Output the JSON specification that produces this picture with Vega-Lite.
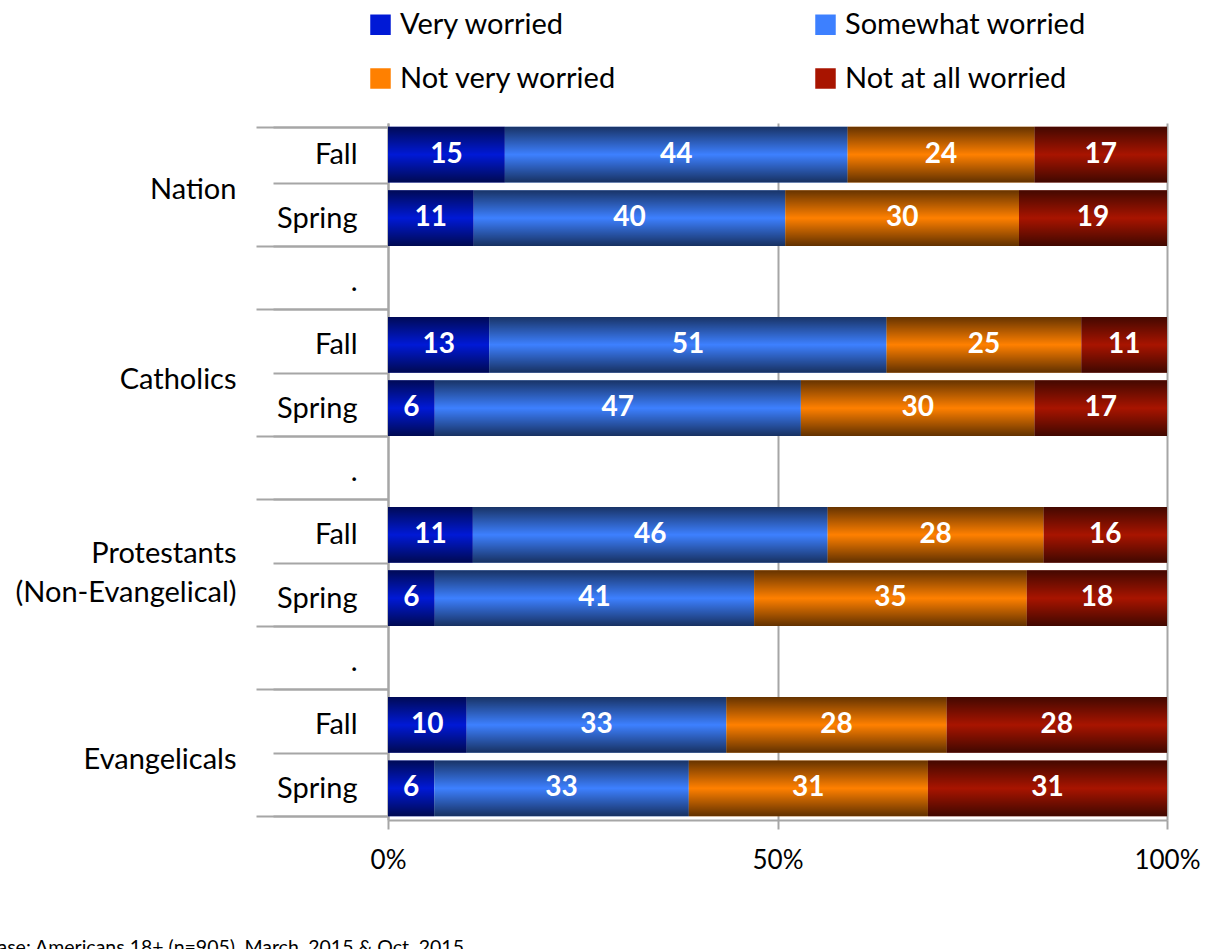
{
  "$schema": "https://vega.github.io/schema/vega-lite/v6.json",
  "width": 779,
  "height": 697,
  "autosize": {"type": "none"},
  "padding": {"left": 388, "top": 123, "right": 44, "bottom": 129},
  "background": "white",
  "config": {
    "font": "Lato",
    "view": {"stroke": null}
  },
  "title": {
    "text": "Base: Americans 18+ (n=905), March, 2015 & Oct. 2015",
    "orient": "bottom",
    "anchor": "start",
    "frame": "group",
    "dx": -403,
    "offset": 66,
    "font": "Lato",
    "fontSize": 19.5,
    "fontWeight": "normal",
    "color": "black"
  },
  "data": {
    "values": [
      {"row": "Nation|Fall", "category": "Very worried", "k": 1, "value": 15},
      {"row": "Nation|Fall", "category": "Somewhat worried", "k": 2, "value": 44},
      {"row": "Nation|Fall", "category": "Not very worried", "k": 3, "value": 24},
      {"row": "Nation|Fall", "category": "Not at all worried", "k": 4, "value": 17},
      {"row": "Nation|Spring", "category": "Very worried", "k": 1, "value": 11},
      {"row": "Nation|Spring", "category": "Somewhat worried", "k": 2, "value": 40},
      {"row": "Nation|Spring", "category": "Not very worried", "k": 3, "value": 30},
      {"row": "Nation|Spring", "category": "Not at all worried", "k": 4, "value": 19},
      {"row": "Catholics|Fall", "category": "Very worried", "k": 1, "value": 13},
      {"row": "Catholics|Fall", "category": "Somewhat worried", "k": 2, "value": 51},
      {"row": "Catholics|Fall", "category": "Not very worried", "k": 3, "value": 25},
      {"row": "Catholics|Fall", "category": "Not at all worried", "k": 4, "value": 11},
      {"row": "Catholics|Spring", "category": "Very worried", "k": 1, "value": 6},
      {"row": "Catholics|Spring", "category": "Somewhat worried", "k": 2, "value": 47},
      {"row": "Catholics|Spring", "category": "Not very worried", "k": 3, "value": 30},
      {"row": "Catholics|Spring", "category": "Not at all worried", "k": 4, "value": 17},
      {"row": "Protestants|Fall", "category": "Very worried", "k": 1, "value": 11},
      {"row": "Protestants|Fall", "category": "Somewhat worried", "k": 2, "value": 46},
      {"row": "Protestants|Fall", "category": "Not very worried", "k": 3, "value": 28},
      {"row": "Protestants|Fall", "category": "Not at all worried", "k": 4, "value": 16},
      {"row": "Protestants|Spring", "category": "Very worried", "k": 1, "value": 6},
      {"row": "Protestants|Spring", "category": "Somewhat worried", "k": 2, "value": 41},
      {"row": "Protestants|Spring", "category": "Not very worried", "k": 3, "value": 35},
      {"row": "Protestants|Spring", "category": "Not at all worried", "k": 4, "value": 18},
      {"row": "Evangelicals|Fall", "category": "Very worried", "k": 1, "value": 10},
      {"row": "Evangelicals|Fall", "category": "Somewhat worried", "k": 2, "value": 33},
      {"row": "Evangelicals|Fall", "category": "Not very worried", "k": 3, "value": 28},
      {"row": "Evangelicals|Fall", "category": "Not at all worried", "k": 4, "value": 28},
      {"row": "Evangelicals|Spring", "category": "Very worried", "k": 1, "value": 6},
      {"row": "Evangelicals|Spring", "category": "Somewhat worried", "k": 2, "value": 33},
      {"row": "Evangelicals|Spring", "category": "Not very worried", "k": 3, "value": 31},
      {"row": "Evangelicals|Spring", "category": "Not at all worried", "k": 4, "value": 31}
    ]
  },
  "layer": [
    {
      "mark": {"type": "bar", "strokeWidth": 0},
      "encoding": {
        "y": {
          "field": "row",
          "type": "nominal",
          "scale": {
            "domain": ["Nation|Fall", "Nation|Spring", "Nation|.", "Catholics|Fall", "Catholics|Spring", "Catholics|.", "Protestants|Fall", "Protestants|Spring", "Protestants|.", "Evangelicals|Fall", "Evangelicals|Spring"],
            "paddingInner": 0.12,
            "paddingOuter": 0.06
          },
          "axis": {
            "orient": "left",
            "title": null,
            "domain": true,
            "domainColor": "#a6a6a6",
            "domainWidth": 2,
            "ticks": true,
            "tickBand": "extent",
            "tickSize": 115,
            "tickColor": "#a6a6a6",
            "tickWidth": 2,
            "labelExpr": "indexof('' + datum.value, '|') >= 0 ? split('' + datum.value, '|')[1] : ''",
            "labelFont": "Lato",
            "labelFontSize": 29,
            "labelColor": "black",
            "labelPadding": -84,
            "labelOverlap": false
          }
        },
        "x": {
          "field": "value",
          "type": "quantitative",
          "stack": "normalize",
          "axis": {
            "title": null,
            "values": [0, 0.5, 1],
            "format": ".0%",
            "grid": true,
            "gridColor": "#a6a6a6",
            "gridWidth": 2,
            "domain": true,
            "domainColor": "#a6a6a6",
            "domainWidth": 2,
            "ticks": true,
            "tickSize": 9,
            "tickColor": "#a6a6a6",
            "tickWidth": 2,
            "labelFont": "Lato",
            "labelFontSize": 26,
            "labelColor": "black",
            "labelPadding": 18,
            "labelFlush": false
          }
        },
        "color": {
          "field": "category",
          "type": "nominal",
          "scale": {
            "domain": ["Very worried", "Somewhat worried", "Not very worried", "Not at all worried"],
            "range": ["#0019d6", "#3d80ff", "#ff8000", "#a81400"]
          },
          "legend": {
            "orient": "none",
            "legendX": -22,
            "legendY": -113,
            "title": null,
            "columns": 2,
            "direction": "horizontal",
            "symbolType": "square",
            "symbolSize": 420,
            "symbolStrokeWidth": 0,
            "symbolOpacity": 1,
            "labelFont": "Lato",
            "labelFontSize": 29,
            "labelColor": "black",
            "labelOffset": 5,
            "columnPadding": 193,
            "rowPadding": 24,
            "labelLimit": 400
          }
        },
        "order": {"field": "k", "type": "quantitative"}
      }
    },
    {
      "mark": {
        "type": "bar",
        "strokeWidth": 0,
        "color": {"gradient": "linear", "x1": 0, "y1": 0, "x2": 0, "y2": 1, "stops": [{"offset": 0, "color": "rgba(0,0,0,0.6)"}, {"offset": 0.5, "color": "rgba(0,0,0,0)"}, {"offset": 1, "color": "rgba(0,0,0,0.62)"}]}
      },
      "encoding": {
        "y": {"field": "row", "type": "nominal", "axis": null},
        "x": {"field": "value", "type": "quantitative", "stack": "normalize"},
        "detail": {"field": "category", "type": "nominal"},
        "order": {"field": "k", "type": "quantitative"}
      }
    },
    {
      "mark": {"type": "text", "color": "white", "font": "Lato", "fontSize": 28, "fontWeight": "bold", "baseline": "middle", "align": "center"},
      "encoding": {
        "y": {
          "field": "row",
          "type": "nominal",
          "axis": {
            "orient": "left",
            "title": null,
            "domain": false,
            "ticks": true,
            "tickBand": "extent",
            "tickSize": 132,
            "tickColor": "#a6a6a6",
            "tickWidth": 2,
            "tickOpacity": {"condition": {"test": "indexof('' + datum.value, 'Fall') >= 0", "value": 0}, "value": 1},
            "labelExpr": "indexof('' + datum.value, '|Fall') >= 0 ? (indexof('' + datum.value, 'Protestants') >= 0 ? ['Protestants', '(Non-Evangelical)'] : split('' + datum.value, '|')[0]) : ''",
            "labelFont": "Lato",
            "labelFontSize": 29,
            "labelColor": "black",
            "labelPadding": 20,
            "labelOffset": {"condition": {"test": "indexof('' + datum.value, 'Protestants') >= 0", "value": 19}, "value": 35},
            "labelLineHeight": 39,
            "labelLimit": 400,
            "labelOverlap": false
          }
        },
        "x": {
          "field": "value",
          "type": "quantitative",
          "stack": "normalize",
          "bandPosition": 0.5
        },
        "detail": {"field": "category", "type": "nominal"},
        "order": {"field": "k", "type": "quantitative"},
        "text": {"field": "value", "type": "quantitative"}
      }
    }
  ],
  "resolve": {"axis": {"y": "independent"}}
}
